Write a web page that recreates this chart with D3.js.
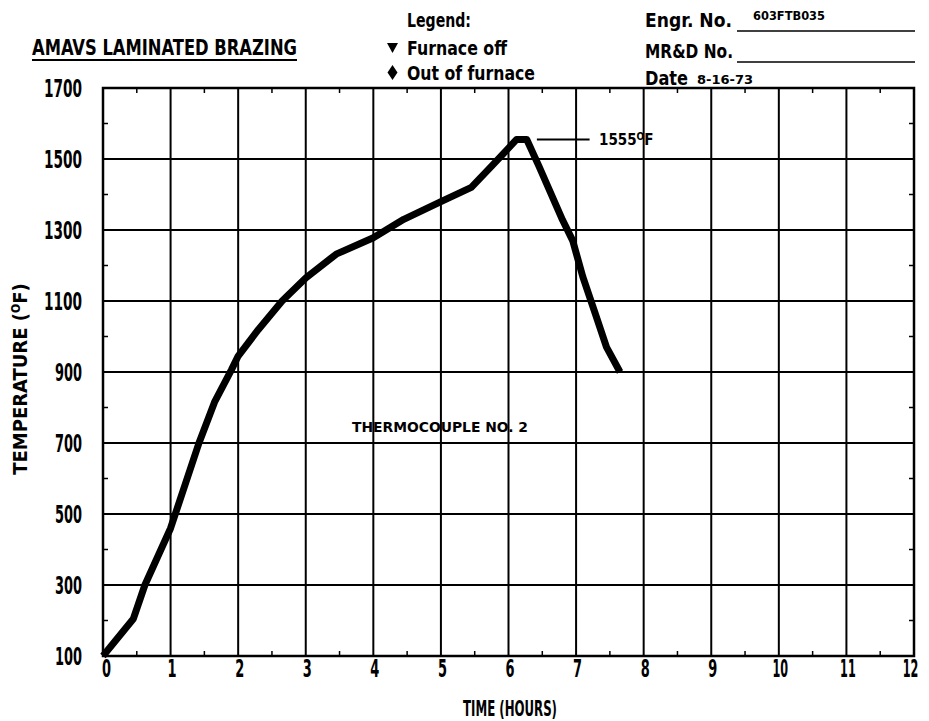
<!DOCTYPE html>
<html>
<head>
<meta charset="utf-8">
<script src="https://cdn.jsdelivr.net/npm/d3@7"></script>
<style>
  html, body { margin: 0; padding: 0; background: #fff; }
  svg { display: block; }
  text { fill: #000; font-family: "Liberation Sans Narrow", "DejaVu Sans Condensed", "DejaVu Sans", sans-serif; font-stretch: condensed; font-weight: bold; }
</style>
</head>
<body>
<svg id="chart" width="929" height="721"></svg>
<script>
// Thermocouple No. 2 trace: time (hours) and temperature (°F)
const timeHours = [0, 0.45, 0.62, 1.0, 1.42, 1.65, 1.9, 2.0, 2.3, 2.65, 3.0, 3.45, 4.0, 4.45, 5.0, 5.45, 5.75, 6.12, 6.27, 6.45, 6.8, 6.95, 7.1, 7.3, 7.45, 7.65];
const tempF     = [100, 205, 300, 460, 700, 815, 906, 945, 1020, 1100, 1165, 1232, 1278, 1330, 1380, 1420, 1480, 1555, 1555, 1480, 1328, 1270, 1168, 1055, 970, 900];

const xTicks = [0,1,2,3,4,5,6,7,8,9,10,11,12];
const yTicks = [100,300,500,700,900,1100,1300,1500,1700];
const peakTemp = 1555;
const peakLabel = "1555";

const svg = d3.select("#chart");
const W = 929, H = 721;
const m = {left: 103, right: 15, top: 88, bottom: 65};

const x = d3.scaleLinear().domain([0, 12]).range([m.left, W - m.right]);
const y = d3.scaleLinear().domain([100, 1700]).range([H - m.bottom, m.top]);

// grid
const grid = svg.append("g");
grid.selectAll("line.v").data(xTicks.slice(1, -1)).join("line")
  .attr("x1", d => x(d)).attr("x2", d => x(d))
  .attr("y1", y(1700)).attr("y2", y(100))
  .attr("stroke", "#000").attr("stroke-width", 2);
grid.selectAll("line.h").data(yTicks.slice(1, -1)).join("line")
  .attr("x1", x(0)).attr("x2", x(12))
  .attr("y1", d => y(d)).attr("y2", d => y(d))
  .attr("stroke", "#000").attr("stroke-width", 2);

// minor ticks on the frame
const halfHours = d3.range(0.5, 12, 1);
const midTemps = d3.range(200, 1700, 200);
const minor = svg.append("g").attr("stroke", "#000").attr("stroke-width", 1.5);
halfHours.forEach(t => {
  minor.append("line").attr("x1", x(t)).attr("x2", x(t)).attr("y1", y(100)).attr("y2", y(100) - 5);
  minor.append("line").attr("x1", x(t)).attr("x2", x(t)).attr("y1", y(1700)).attr("y2", y(1700) + 5);
});
midTemps.forEach(v => {
  minor.append("line").attr("x1", x(0)).attr("x2", x(0) + 5).attr("y1", y(v)).attr("y2", y(v));
  minor.append("line").attr("x1", x(12)).attr("x2", x(12) - 5).attr("y1", y(v)).attr("y2", y(v));
});

// frame
svg.append("rect")
  .attr("x", x(0)).attr("y", y(1700))
  .attr("width", x(12) - x(0)).attr("height", y(100) - y(1700))
  .attr("fill", "none").attr("stroke", "#000").attr("stroke-width", 2.5);

// tick labels
const yAxis = d3.axisLeft(y).tickValues(yTicks).tickFormat(d3.format("d")).tickSize(0).tickPadding(21);
const gy = svg.append("g").attr("transform", `translate(${x(0)},0)`).call(yAxis);
gy.select(".domain").remove();
gy.selectAll("text").attr("font-size", 24).attr("dy", "0.36em")
  .attr("textLength", d => d >= 1000 ? 38 : 27).attr("lengthAdjust", "spacingAndGlyphs")
  .attr("font-family", null);

// x labels: narrowed horizontally so the tall digits keep a condensed look
const xAxis = d3.axisBottom(x).tickValues(xTicks).tickFormat(d3.format("d")).tickSize(0).tickPadding(4);
const gx = svg.append("g").attr("transform", `translate(0,${y(100)})`).call(xAxis);
gx.select(".domain").remove();
gx.selectAll("text")
  .attr("font-size", 24).attr("dy", "0.71em").attr("font-family", null)
  .attr("x", d => (d === 0 ? 3 : (d === 12 ? -4 : 1)) / (d >= 10 ? 0.52 : 0.6))
  .attr("transform", d => `scale(${d >= 10 ? 0.52 : 0.6},1)`);

// curve
const pts = timeHours.map((t, i) => [t, tempF[i]]);
svg.append("path")
  .datum(pts)
  .attr("fill", "none").attr("stroke", "#000").attr("stroke-width", 7)
  .attr("stroke-linejoin", "round").attr("stroke-linecap", "butt")
  .attr("d", d3.line().x(d => x(d[0])).y(d => y(d[1])));

// peak annotation
svg.append("line")
  .attr("x1", x(6.42)).attr("x2", x(7.2))
  .attr("y1", y(peakTemp)).attr("y2", y(peakTemp))
  .attr("stroke", "#000").attr("stroke-width", 2);
const pk = svg.append("text").attr("x", x(7.34)).attr("y", y(peakTemp) + 6).attr("font-size", 15);
pk.append("tspan").text(peakLabel);
pk.append("tspan").attr("font-size", 10).attr("dy", -5).text("O");
pk.append("tspan").attr("dy", 5).text("F");

svg.append("text").attr("x", 352).attr("y", 432).attr("font-size", 14)
  .attr("textLength", 176).attr("lengthAdjust", "spacingAndGlyphs")
  .text("THERMOCOUPLE NO. 2");

// axis titles
svg.append("text").attr("x", 510).attr("y", 716).attr("text-anchor", "middle")
  .attr("font-size", 22).attr("textLength", 94).attr("lengthAdjust", "spacingAndGlyphs")
  .text("TIME (HOURS)");

const yt = svg.append("text").attr("transform", "translate(27,379) rotate(-90)")
  .attr("text-anchor", "middle").attr("font-size", 20);
yt.append("tspan").text("TEMPERATURE (");
yt.append("tspan").attr("font-size", 12).attr("dy", -7).text("O");
yt.append("tspan").attr("dy", 7).text("F)");

// header
svg.append("text").attr("x", 32).attr("y", 55).attr("font-size", 21)
  .attr("textLength", 265).attr("lengthAdjust", "spacingAndGlyphs")
  .text("AMAVS LAMINATED BRAZING");
svg.append("line").attr("x1", 32).attr("x2", 297).attr("y1", 60).attr("y2", 60)
  .attr("stroke", "#000").attr("stroke-width", 2);

svg.append("text").attr("x", 407).attr("y", 27).attr("font-size", 19)
  .attr("textLength", 64).attr("lengthAdjust", "spacingAndGlyphs").text("Legend:");
svg.append("path").attr("d", "M387,43 L398,43 L392.5,53 Z").attr("fill", "#000");
svg.append("text").attr("x", 407).attr("y", 55).attr("font-size", 19)
  .attr("textLength", 100).attr("lengthAdjust", "spacingAndGlyphs").text("Furnace off");
svg.append("path").attr("d", "M392.5,65 L397.5,72.5 L392.5,80 L387.5,72.5 Z").attr("fill", "#000");
svg.append("text").attr("x", 407).attr("y", 80).attr("font-size", 19)
  .attr("textLength", 128).attr("lengthAdjust", "spacingAndGlyphs").text("Out of furnace");

svg.append("text").attr("x", 645).attr("y", 27).attr("font-size", 19)
  .attr("textLength", 87).attr("lengthAdjust", "spacingAndGlyphs").text("Engr. No.");
svg.append("text").attr("x", 753).attr("y", 20).attr("font-size", 12)
  .attr("textLength", 72).attr("lengthAdjust", "spacingAndGlyphs").text("603FTB035");
svg.append("line").attr("x1", 737).attr("x2", 915).attr("y1", 31).attr("y2", 31)
  .attr("stroke", "#000").attr("stroke-width", 1.5);
svg.append("text").attr("x", 645).attr("y", 58).attr("font-size", 19)
  .attr("textLength", 88).attr("lengthAdjust", "spacingAndGlyphs").text("MR&D No.");
svg.append("line").attr("x1", 737).attr("x2", 915).attr("y1", 62).attr("y2", 62)
  .attr("stroke", "#000").attr("stroke-width", 1.5);
svg.append("text").attr("x", 645).attr("y", 85).attr("font-size", 19)
  .attr("textLength", 43).attr("lengthAdjust", "spacingAndGlyphs").text("Date");
svg.append("text").attr("x", 697).attr("y", 84).attr("font-size", 13)
  .attr("textLength", 56).attr("lengthAdjust", "spacingAndGlyphs").text("8-16-73");
</script>
</body>
</html>
